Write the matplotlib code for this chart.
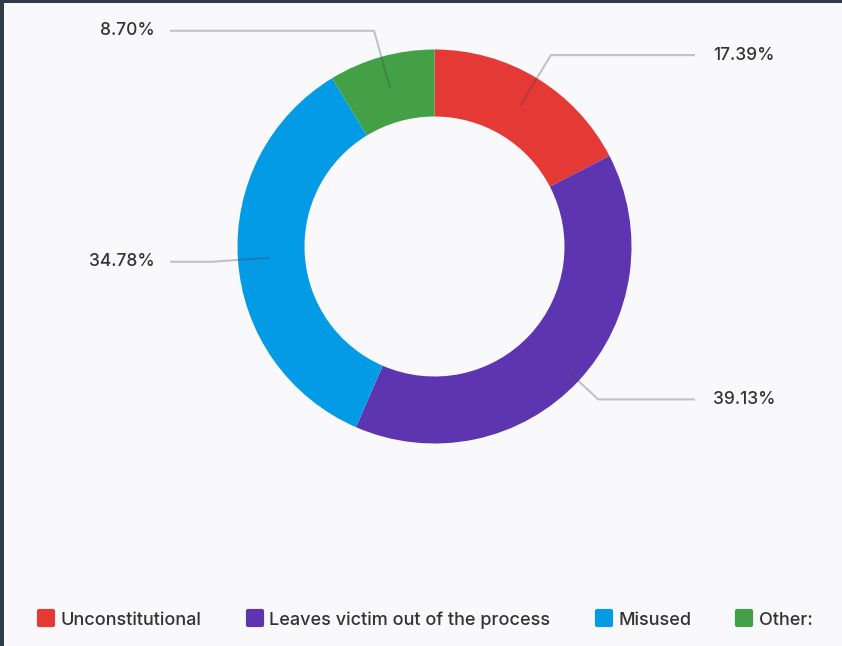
import numpy as np
import matplotlib
matplotlib.use("Agg")
import matplotlib.pyplot as plt
from matplotlib.patches import Rectangle
from matplotlib.lines import Line2D
from matplotlib.markers import MarkerStyle

categories = ["Unconstitutional", "Leaves victim out of the process", "Misused", "Other:"]
counts = [4, 9, 8, 2]
pct_labels = ["17.39%", "39.13%", "34.78%", "8.70%"]
colors = ["#e53935", "#5e35b1", "#039be5", "#43a047"]

plt.rcParams["font.family"] = ["Inter", "DejaVu Sans"]

W, H = 842, 646
fig = plt.figure(figsize=(W / 100, H / 100), dpi=100, facecolor="#2e3d48")

# light panel with thin dark frame on the left and top
fig.patches.append(Rectangle((4 / W, 0), 1, 1 - 3 / H, transform=fig.transFigure,
                             facecolor="#f9f9fb", edgecolor="none", zorder=-10))

ax = fig.add_axes([0, 0, 1, 1])
ax.patch.set_visible(False)

cx, cy = 434.5, H - 246.5
R = 197
wedges, _ = ax.pie(counts, colors=colors, startangle=90, counterclock=False,
                   center=(cx, cy), radius=R, frame=True,
                   wedgeprops=dict(width=67, edgecolor="none"))
ax.set_xlim(0, W)
ax.set_ylim(0, H)
ax.set_aspect("equal")
ax.axis("off")

# leader lines and labels
for w, lab in zip(wedges, pct_labels):
    ang = np.deg2rad((w.theta1 + w.theta2) / 2)
    x0, y0 = cx + 165 * np.cos(ang), cy + 165 * np.sin(ang)
    x1, y1 = cx + 224 * np.cos(ang), cy + 224 * np.sin(ang)
    right = np.cos(ang) > 0
    x2 = 695 if right else 170
    ax.plot([x0, x1, x2], [y0, y1, y1], color="#444444", alpha=0.3, lw=1.5,
            solid_capstyle="butt", zorder=5)
    ax.text(713 if right else 155, y1, lab, ha="left" if right else "right",
            va="center", fontsize=12.5, fontweight="medium", color="#333333", zorder=6)

handles = [Line2D([], [], marker=MarkerStyle("s", joinstyle="round"), linestyle="none",
                  markersize=10, markeredgewidth=3,
                  markerfacecolor=c, markeredgecolor=c) for c in colors]
fig.legend(handles, categories, loc="center", bbox_to_anchor=(425 / W, 1 - 620 / H),
           ncol=4, frameon=False, prop=dict(size=13, weight="medium"), labelcolor="#333333",
           handletextpad=0.3, columnspacing=2.45, handlelength=1.0)

fig.savefig("out.png", dpi=100, facecolor=fig.get_facecolor())
